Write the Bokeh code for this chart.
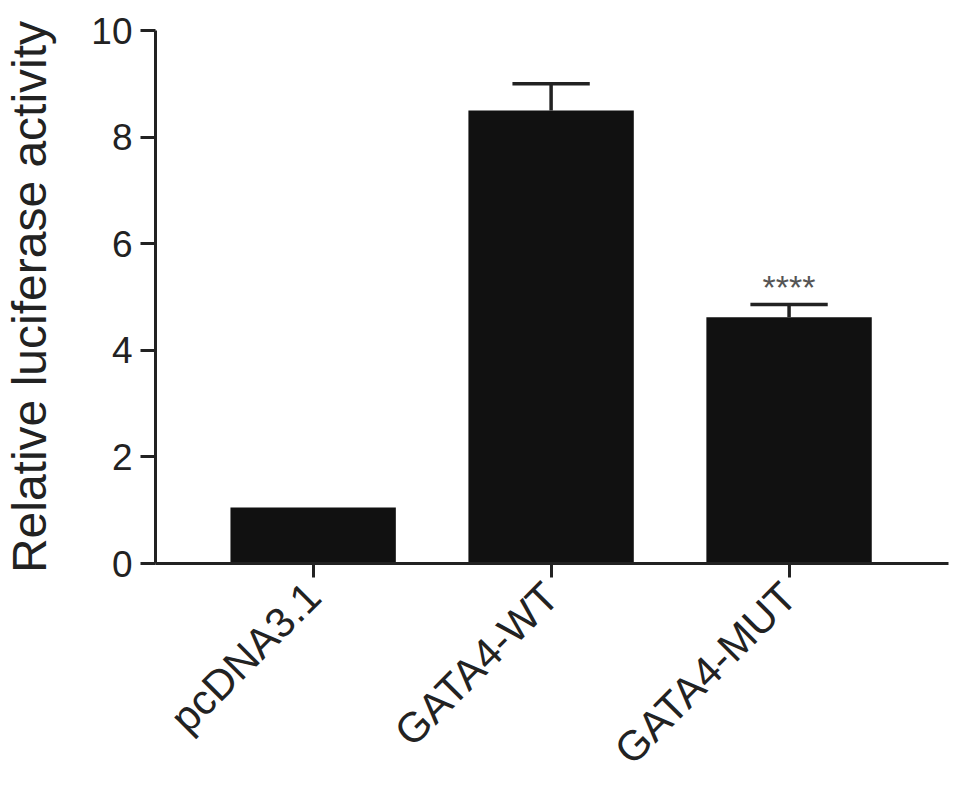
from bokeh.plotting import figure
from bokeh.models import Range1d, FixedTicker, ColumnDataSource
from bokeh.embed import file_html
from bokeh.resources import INLINE
from bokeh.core.properties import value
import math

categories = ["pcDNA3.1", "GATA4-WT", "GATA4-MUT"]
means = [1.05, 8.50, 4.62]
errors = [0.0, 0.50, 0.24]
significance = ["", "", "****"]
y_ticks = [0, 2, 4, 6, 8, 10]

xs = list(range(len(categories)))
bar_w = 0.695
cap_half = 0.1625

p = figure(width=960, height=795, output_backend="svg", toolbar_location=None,
           x_range=Range1d(-0.6625, 2.67), y_range=Range1d(0, 10),
           min_border_left=148, min_border_top=30, min_border_right=12,
           min_border_bottom=232)
p.outline_line_color = None
p.grid.grid_line_color = None
p.background_fill_color = "white"
p.border_fill_color = "white"

src = ColumnDataSource(dict(x=xs, top=means))
p.vbar(x="x", top="top", width=bar_w, bottom=0, source=src,
       fill_color="#111111", line_color=None)
err_idx = [i for i, e in enumerate(errors) if e > 0]
esrc = ColumnDataSource(dict(
    x=[xs[i] for i in err_idx], top=[means[i] for i in err_idx],
    up=[means[i] + errors[i] for i in err_idx],
    cl=[xs[i] - cap_half for i in err_idx], cr=[xs[i] + cap_half for i in err_idx],
))
p.segment(x0="x", y0="top", x1="x", y1="up", source=esrc, line_color="#222222", line_width=3.5)
p.segment(x0="cl", y0="up", x1="cr", y1="up", source=esrc, line_color="#222222", line_width=3.5)

sig_idx = [i for i, s in enumerate(significance) if s]
p.text(x=[xs[i] for i in sig_idx], y=[means[i] + errors[i] for i in sig_idx],
       text=[significance[i] for i in sig_idx], text_align="center", text_baseline="bottom",
       y_offset=2, text_font=value("Liberation Sans"), text_font_size="34px",
       text_color="#555555")

# axes
p.xaxis.ticker = FixedTicker(ticks=xs)
p.xaxis.major_label_overrides = {i: c for i, c in enumerate(categories)}
p.xaxis.major_label_orientation = math.pi / 4
p.yaxis.ticker = FixedTicker(ticks=y_ticks)
p.yaxis.axis_label = "Relative luciferase activity"

for ax in (p.xaxis[0], p.yaxis[0]):
    ax.axis_line_width = 3
    ax.axis_line_color = "#222222"
    ax.major_tick_line_width = 3
    ax.major_tick_line_color = "#222222"
    ax.major_tick_in = 0
    ax.minor_tick_line_color = None
    ax.major_label_text_font = "Liberation Sans"
    ax.major_label_text_color = "#222222"
    ax.axis_label_text_font = "Liberation Sans"
    ax.axis_label_text_font_style = "normal"
    ax.axis_label_text_color = "#222222"

p.yaxis.major_tick_out = 15
p.yaxis.major_label_text_font_size = "37px"
p.yaxis.major_label_standoff = 8
p.yaxis.axis_label_text_font_size = "48px"
p.yaxis.axis_label_standoff = 32
p.xaxis.major_tick_out = 14
p.xaxis.major_label_text_font_size = "42px"
p.xaxis.major_label_standoff = 12

open("out.html", "w").write(file_html(p, INLINE))
